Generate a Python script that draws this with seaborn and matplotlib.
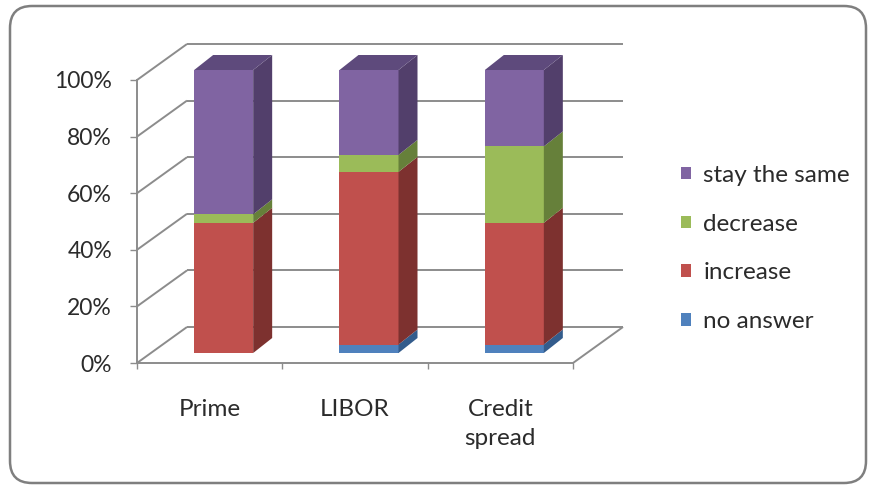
import matplotlib
matplotlib.use("Agg")
import matplotlib.pyplot as plt
from matplotlib.patches import Polygon, FancyBboxPatch, Patch
from matplotlib.transforms import ScaledTranslation, IdentityTransform
from matplotlib.ticker import FixedLocator, FuncFormatter
import numpy as np
import pandas as pd
import seaborn as sns

# ---- data (percent of respondents) ----
categories = ["Prime", "LIBOR", "Credit\nspread"]
no_answer = [0, 3, 3]
increase = [46, 61, 43]
decrease = [3, 6, 27]
stay_same = [51, 30, 27]

series_names = ["no answer", "increase", "decrease", "stay the same"]
series_values = [no_answer, increase, decrease, stay_same]
y_ticks = [0, 20, 40, 60, 80, 100]

# ---- style ----
front_colors = ["#4F81BD", "#C0504D", "#9BBB59", "#8064A2"]
side_colors = ["#335C8C", "#7D312F", "#66803A", "#523F6B"]
top_color = "#5E4A7C"
grid_color = "#8C8C8C"
text_color = "#2B2B2B"

sns.set_theme(style="white")
plt.rcParams["font.family"] = ["Lato", "DejaVu Sans"]

W, H, DPI = 869, 487, 100
fig = plt.figure(figsize=(W / DPI, H / DPI), dpi=DPI)
ax = fig.add_axes([137 / W, 124 / H, 436 / W, 283 / H])
ax.set_xlim(-0.5, 2.5)
ax.set_ylim(0, 100)

def px_to_data(dx, dy):
    """Convert a display offset in pixels into a data-space offset."""
    p0 = ax.transData.transform((0, 0))
    return ax.transData.inverted().transform(p0 + np.array([dx, dy]))

# depth offsets (pixels): front face of bars, bar thickness, back wall
FRONT_PX = (14, 10)
BAR_DEPTH_PX = (19, 15)
WALL_PX = (50, 36)
fdx, fdy = px_to_data(*FRONT_PX)
bdx, bdy = px_to_data(*BAR_DEPTH_PX)
wdx, wdy = px_to_data(*WALL_PX)

# ---- walls and floor ----
gkw = dict(color=grid_color, lw=1.4, clip_on=False, zorder=1, solid_capstyle="butt")
x0, x1 = -0.5, 2.5
for v in y_ticks:
    ax.plot([x0 + wdx, x1 + wdx], [v + wdy, v + wdy], **gkw)
    ax.plot([x0, x0 + wdx], [v, v + wdy], **gkw)
ax.plot([x1, x1 + wdx], [0, wdy], **gkw)

# ---- stacked bars (cumulative, drawn tallest first) ----
bar_width = 0.406
cum = np.cumsum(np.array(series_values), axis=0)
shift = ScaledTranslation(FRONT_PX[0] / DPI, FRONT_PX[1] / DPI, fig.dpi_scale_trans)
for i in range(len(series_names) - 1, -1, -1):
    df = pd.DataFrame({"cat": categories, "val": cum[i]})
    n_before = len(ax.patches)
    sns.barplot(data=df, x="cat", y="val", color=front_colors[i], width=bar_width,
                saturation=1, linewidth=0, ax=ax, zorder=3)
    for p in ax.patches[n_before:]:
        p.set_transform(ax.transData + shift)
        p.set_clip_on(False)

# side and top faces of each segment
for j in range(len(categories)):
    xr = j + bar_width / 2 + fdx
    xl = j - bar_width / 2 + fdx
    base = 0.0
    for i in range(len(series_names)):
        h = series_values[i][j]
        if h > 0:
            y0, y1 = base + fdy, base + h + fdy
            side = Polygon([(xr, y0), (xr, y1), (xr + bdx, y1 + bdy), (xr + bdx, y0 + bdy)],
                           closed=True, facecolor=side_colors[i], edgecolor="none",
                           clip_on=False, zorder=3)
            ax.add_patch(side)
        base += h
    yt = base + fdy
    top = Polygon([(xl, yt), (xr, yt), (xr + bdx, yt + bdy), (xl + bdx, yt + bdy)],
                  closed=True, facecolor=top_color, edgecolor="none", clip_on=False, zorder=3)
    ax.add_patch(top)

# ---- axes ----
for s in ["top", "right"]:
    ax.spines[s].set_visible(False)
for s in ["left", "bottom"]:
    ax.spines[s].set_color(grid_color)
    ax.spines[s].set_linewidth(1.4)
    ax.spines[s].set_zorder(2)

ax.set_xlabel("")
ax.set_ylabel("")
ax.yaxis.set_major_locator(FixedLocator(y_ticks))
ax.yaxis.set_major_formatter(FuncFormatter(lambda v, _: f"{v:.0f}%"))
ax.tick_params(axis="y", which="major", direction="out", length=5, width=1.0,
               color=grid_color, pad=13, labelsize=16.5, labelcolor=text_color, left=True)
ax.set_xticks([0, 1, 2])
ax.set_xticklabels(categories, linespacing=1.45)
ax.xaxis.set_minor_locator(FixedLocator([-0.5, 0.5, 1.5, 2.5]))
ax.tick_params(axis="x", which="major", length=0, pad=26, labelsize=17.5, labelcolor=text_color)
ax.tick_params(axis="x", which="minor", direction="out", length=4.5, width=1.0,
               color=grid_color, bottom=True)
ax.set_xlim(-0.5, 2.5)
ax.set_ylim(0, 100)

# ---- legend ----
handles = [Patch(facecolor=front_colors[i], edgecolor="none") for i in range(3, -1, -1)]
labels = [series_names[i] for i in range(3, -1, -1)]
fig.legend(handles, labels, loc="upper left", bbox_transform=IdentityTransform(),
           bbox_to_anchor=(659, H - 143), frameon=False, fontsize=17.5,
           handlelength=0.42, handleheight=0.42, handletextpad=0.5,
           labelspacing=1.14, labelcolor=text_color)

# ---- rounded outer frame ----
frame = FancyBboxPatch((10, 4), 856, 477, boxstyle="round,pad=0,rounding_size=22",
                       transform=IdentityTransform(), facecolor="none",
                       edgecolor="#7F7F7F", linewidth=1.8)
fig.patches.append(frame)

fig.savefig("out.png", dpi=DPI)
